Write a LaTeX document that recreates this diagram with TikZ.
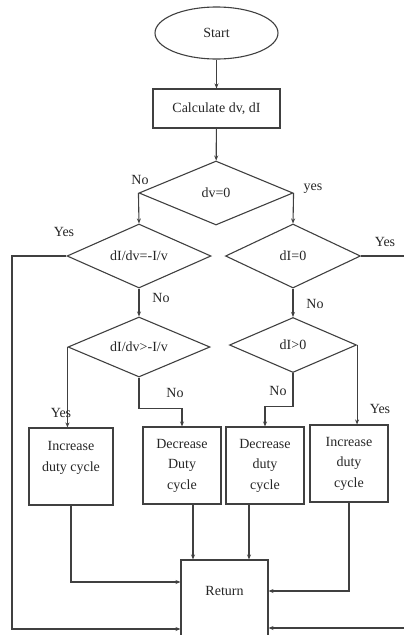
\documentclass[tikz,border=0pt]{standalone}
\usepackage{fontspec}
\setmainfont{Liberation Serif}
\usetikzlibrary{shapes.geometric,arrows.meta}
\begin{document}
\begin{tikzpicture}[x=1pt,y=-1pt,
  every node/.style={font=\fontsize{14}{20.5}\selectfont, text=black!85},
  ln/.style={draw=black!75, line width=1.1pt},
  arr/.style={ln,-{Stealth[length=5pt,width=4pt]}},
  startshape/.style={ellipse, ln, minimum width=123pt, minimum height=52pt, inner sep=0pt},
  procbox/.style={rectangle, ln, align=center, inner sep=0pt},
  decision/.style={diamond, ln, inner sep=0pt, aspect=2},
  lbl/.style={inner sep=0pt}
]
\useasboundingbox (0,0) rectangle (404,635);

\node[startshape] (start) at (216.5,33) {Start};
\node[procbox, minimum width=127pt, minimum height=39pt] (calc) at (216.5,108.5) {Calculate dv, dI};
\node[decision, minimum width=154pt, minimum height=64pt] (d1) at (216,193) {dv=0};
\node[decision, minimum width=144pt, minimum height=64pt] (d2) at (139,256) {dI/dv=-I/v};
\node[decision, minimum width=135pt, minimum height=64pt] (d3) at (293,256) {dI=0};
\node[decision, minimum width=142pt, minimum height=60pt] (d4) at (139,347) {dI/dv>-I/v};
\node[decision, minimum width=127pt, minimum height=55pt] (d5) at (293,345) {dI>0};

\node[procbox, minimum width=84pt, minimum height=77pt] (b1) at (71,466.5) {Increase\\duty cycle\\\mbox{}};
\node[procbox, minimum width=78pt, minimum height=77pt] (b2) at (182,465.5) {Decrease\\Duty\\cycle};
\node[procbox, minimum width=78pt, minimum height=77pt] (b3) at (265,465.5) {Decrease\\duty\\cycle};
\node[procbox, minimum width=78pt, minimum height=77pt] (b4) at (349,463.5) {Increase\\duty\\cycle};
\node[procbox, minimum width=87pt, minimum height=110pt, text height=9pt, text depth=48pt] (ret) at (224.5,615) {Return};

\coordinate (lA) at (12,629);
\coordinate (rA) at (420,628);
\coordinate (j1) at (0,582);
\coordinate (j2) at (0,591);
\coordinate (t1) at (193,560);
\coordinate (t2) at (249,560);

\draw[arr] (start) -- (calc);
\draw[arr] (calc) -- (d1);
\draw[arr] (d1.west) -- (d2.north);
\draw[arr] (d1.east) -- (d3.north);
\draw[arr] (d2) -- (d4);
\draw[arr] (d3) -- (d5);
\draw[arr] (d2.west) -| (lA) -- (lA -| ret.west);
\draw[arr] (d3.east) -| (rA) -- (rA -| ret.east);
\draw[arr] (d4.west) -- (d4.west |- b1.north);
\draw[arr] (d4.south) -- ++(0,31) -| (b2.north);
\draw[arr] (d5.south) -- ++(0,33) -| (b3.north);
\draw[arr] (d5.east) -- (d5.east |- b4.north);
\draw[arr] (b1.south) |- (j1 -| ret.west);
\draw[arr] (b2.south -| t1) -- (t1 |- ret.north);
\draw[arr] (b3.south -| t2) -- (t2 |- ret.north);
\draw[arr] (b4.south) |- (j2 -| ret.east);

\node[lbl] (n1) at (140,180) {No};
\node[lbl] (y1) at (313,189) {yes};
\node[lbl] (y2) at (64,232) {Yes};
\node[lbl] (y3) at (385,242) {Yes};
\node[lbl] (n2) at (161,298) {No};
\node[lbl] (n3) at (315,304) {No};
\node[lbl] (n4) at (175,393) {No};
\node[lbl] (y4) at (61,413) {Yes};
\node[lbl] (n5) at (278,391) {No};
\node[lbl] (y5) at (380,409) {Yes};
\end{tikzpicture}
\end{document}
